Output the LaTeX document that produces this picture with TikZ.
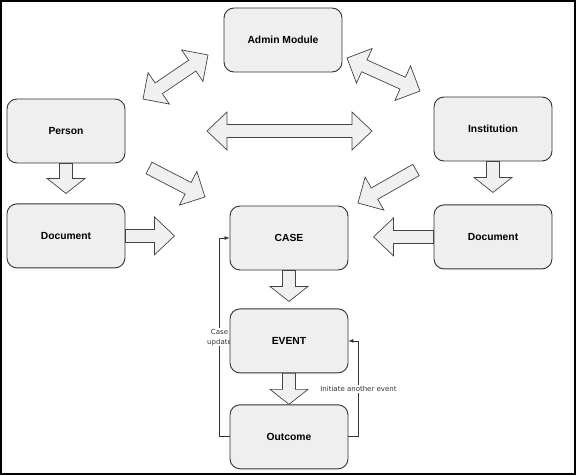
\documentclass[tikz,border=0pt]{standalone}
\usepackage{fontspec}
\setmainfont{Liberation Sans}
\newfontfamily\notefont{DejaVu Sans}
\usetikzlibrary{arrows.meta, positioning, calc, backgrounds}
\definecolor{boxfill}{HTML}{EFEFEF}
\definecolor{boxline}{HTML}{333333}
\definecolor{arrowfill}{HTML}{F0F0F0}
\definecolor{arrowline}{HTML}{444444}

% fat arrow: [head length]{tail}{tip}
\newcommand{\fatarrow}[3][19pt]{%
  \coordinate (hd) at ($(#3)!#1!(#2)$);
  \draw[blockarrow] ($(#2)!6.5pt!90:(#3)$) -- ($(hd)!6.5pt!90:(#3)$) -- ($(hd)!19pt!90:(#3)$) -- (#3)
    -- ($(hd)!19pt!-90:(#3)$) -- ($(hd)!6.5pt!-90:(#3)$) -- ($(#2)!6.5pt!-90:(#3)$) -- cycle;
}
% fat arrow with two heads: [head length]{tip}{tip}
\newcommand{\fatdouble}[3][19pt]{%
  \coordinate (ha) at ($(#2)!#1!(#3)$);
  \coordinate (hb) at ($(#3)!#1!(#2)$);
  \draw[blockarrow] (#2) -- ($(ha)!19pt!90:(#3)$) -- ($(ha)!6.5pt!90:(#3)$) -- ($(hb)!6.5pt!90:(#3)$)
    -- ($(hb)!19pt!90:(#3)$) -- (#3) -- ($(hb)!19pt!-90:(#3)$) -- ($(hb)!6.5pt!-90:(#3)$)
    -- ($(ha)!6.5pt!-90:(#3)$) -- ($(ha)!19pt!-90:(#3)$) -- cycle;
}

\begin{document}
\begin{tikzpicture}[x=1pt, y=-1pt, font=\fontsize{10.3}{12}\selectfont\bfseries,
  entity/.style={rectangle, rounded corners=10pt, draw=boxline, line width=0.9pt,
    fill=boxfill, minimum width=118pt, minimum height=64pt},
  blockarrow/.style={draw=arrowline, line width=0.7pt, fill=arrowfill, line join=miter},
  loopline/.style={-{Latex[length=5pt,width=4pt]}, line width=0.7pt, boxline},
  note/.style={font=\notefont\fontsize{7}{9.5}\selectfont, fill=white, inner sep=1pt, align=center}]
  \useasboundingbox (0,0) rectangle (576,476);
  \draw[line width=1.8pt] (1,1) rectangle (575,474);

  \node[entity] (admin) at (283,40) {Admin Module};
  \node[entity] (person) at (66,131) {Person};
  \node[entity, below=40pt of person] (docl) {Document};
  \node[entity] (inst) at (493,129) {Institution};
  \node[entity, below=43pt of inst] (docr) {Document};
  \node[entity] (case) at (289,238) {CASE};
  \node[entity, below=38pt of case] (event) {EVENT};
  \node[entity, below=31pt of event] (outcome) {Outcome};

  % fat arrows
  \coordinate (pd) at ($(docl.north)+(0,-10)$);
  \fatarrow[15pt]{person.south}{pd}
  \coordinate (id) at ($(docr.north)+(0,-12)$);
  \fatarrow[15pt]{inst.south}{id}
  \coordinate (ce) at ($(event.north)+(0,-7)$);
  \fatarrow[15pt]{case.south}{ce}
  \fatarrow[15pt]{event.south}{outcome.north}
  \coordinate (dlt) at ($(docl.east)+(49,0)$);
  \fatarrow[20pt]{docl.east}{dlt}
  \coordinate (drt) at ($(docr.west)+(-60,0)$);
  \fatarrow[20pt]{docr.west}{drt}
  \coordinate (pct) at (149,168);
  \coordinate (pch) at (205,197);
  \fatarrow{pct}{pch}
  \coordinate (ict) at (416,170);
  \coordinate (ich) at (358,203);
  \fatarrow{ict}{ich}
  \coordinate (pa1) at (143,99);
  \coordinate (pa2) at (208,55);
  \fatdouble{pa1}{pa2}
  \coordinate (ai1) at (347,58);
  \coordinate (ai2) at (420,91);
  \fatdouble{ai1}{ai2}
  \coordinate (mid1) at (207,131);
  \coordinate (mid2) at (372,131);
  \fatdouble[20pt]{mid1}{mid2}

  % feedback lines
  \begin{scope}[on background layer]
    \draw[loopline] (outcome.west) -- ++(-10,0) |- node[note, pos=0.25] {Case\\update} (case.west);
    \draw[loopline] (outcome.east) -- ++(10,0) |- node[note, pos=0.25] {Initiate another event} (event.east);
  \end{scope}
\end{tikzpicture}
\end{document}
